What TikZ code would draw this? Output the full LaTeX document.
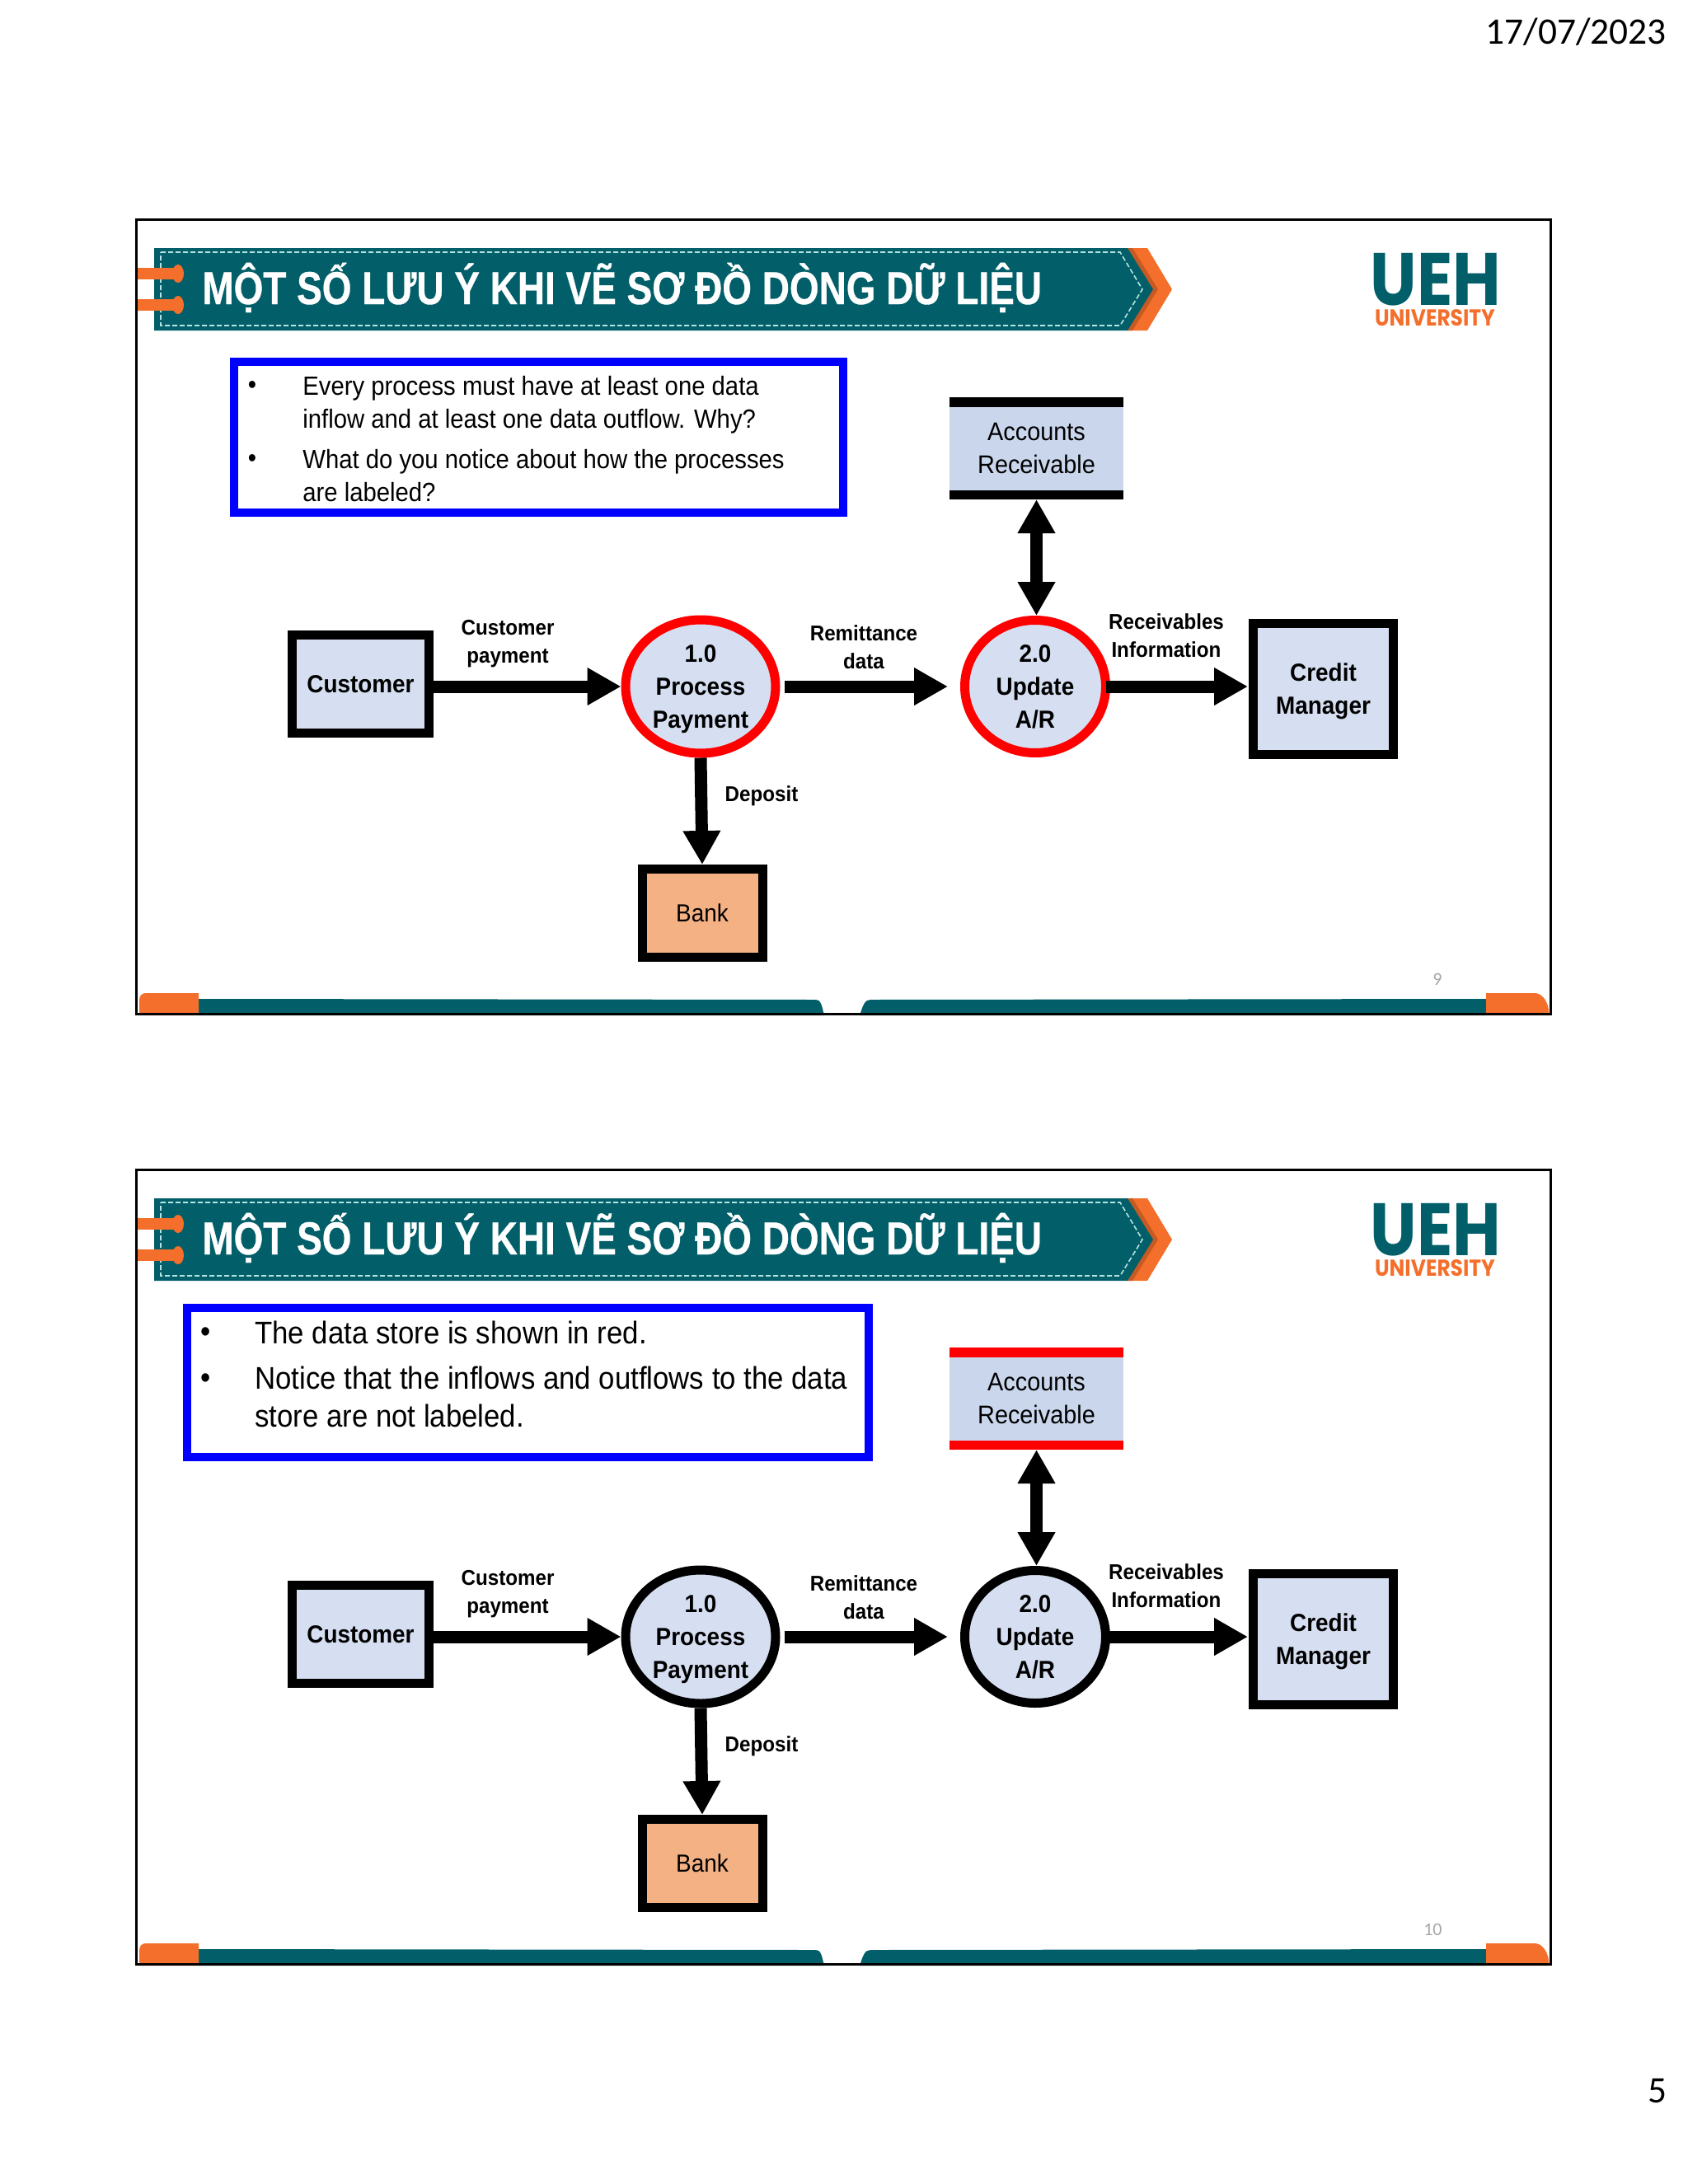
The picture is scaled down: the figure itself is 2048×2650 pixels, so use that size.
\documentclass[tikz,border=0pt]{standalone}
\usepackage{fontspec}
\usetikzlibrary{shapes.geometric,arrows.meta,calc}
\setmainfont{Liberation Sans}
\newfontfamily\titlefont[FakeStretch=.82,FakeBold=.6]{Liberation Sans}
\newfontfamily\bodyfont[FakeStretch=.915]{Liberation Sans}
\newfontfamily\nodefont[FakeStretch=.93]{Liberation Sans}
\newfontfamily\logofont[FakeStretch=.89]{Poppins}
\newfontfamily\pagefont{Carlito}
\definecolor{dfdteal}{HTML}{025F69}
\definecolor{dfdorange}{HTML}{F36F2B}
\definecolor{dfdshade}{HTML}{C65A22}
\definecolor{dfddash}{HTML}{B5E3E3}
\definecolor{dfdblue}{HTML}{D6DFF1}
\definecolor{dfdstore}{HTML}{C9D6EC}
\definecolor{dfdbank}{HTML}{F4B183}
\definecolor{dfdred}{HTML}{FF0000}
\definecolor{dfdbox}{HTML}{0000FF}
\tikzset{
  entity/.style={draw=black, fill=dfdblue, line width=5.5pt, align=center, inner sep=0,
                 font=\nodefont\bfseries\fontsize{15}{20}\selectfont},
  process/.style={ellipse, fill=dfdblue, line width=5.5pt, inner sep=0},
  proctext/.style={align=center, inner sep=0, yshift=-1.5pt, font=\nodefont\bfseries\fontsize{15}{20}\selectfont},
  store/.style={fill=dfdstore, inner sep=0, outer sep=0, align=center, minimum width=105.5pt, minimum height=62pt,
                font=\nodefont\fontsize{15.5}{20}\selectfont},
  flowlabel/.style={align=center, inner sep=0, font=\nodefont\bfseries\fontsize{13}{17}\selectfont},
  flow/.style={line width=7.5pt, -{Triangle[length=20.5pt,width=21.5pt]}},
  bothflow/.style={line width=7.5pt, {Triangle[length=20.5pt,width=21.5pt]}-{Triangle[length=20.5pt,width=21.5pt]}},
  notebox/.style={draw=dfdbox, line width=5pt, inner sep=0},
  bullettext/.style={anchor=north west, align=left, inner sep=0}
}
\begin{document}
\begin{tikzpicture}[x=0.5pt,y=-0.5pt]
\useasboundingbox (0,0) rectangle (2048,2650);
\node[font=\pagefont\fontsize{22.7}{26}\selectfont, anchor=base east, inner sep=0] (date) at (2022,53) {17/07/2023};
\node[font=\pagefont\fontsize{22.7}{26}\selectfont, inner sep=0] (sheet) at (2011,2537) {5};

\foreach \s/\yy/\pg/\ring/\bars in {one/0/9/dfdred/black,two/1153/10/black/dfdred}{
\begin{scope}[shift={(0,\yy)}, name prefix=\s-]
  % banner
  \fill[dfdorange] (1368,301) -- (1392,301) -- (1422,351) -- (1392,401) -- (1368,401) -- cycle;
  \fill[dfdshade] (1368,301) -- (1374,301) -- (1405,351) -- (1374,401) -- (1368,401) -- cycle;
  \fill[dfdteal] (187,301) -- (1368,301) -- (1399,351) -- (1368,401) -- (187,401) -- cycle;
  \draw[dfddash, line width=.8pt, dash pattern=on 3pt off 1.5pt]
    (195,306) -- (1359,306) -- (1386,351) -- (1359,395) -- (195,395) -- cycle;
  \foreach \py in {332,370}{
    \fill[dfdorange] (167,\py-7) rectangle (216,\py+7);
    \fill[dfdorange] (216,\py) ellipse [x radius=7, y radius=11];
  }
  \node[font=\titlefont\bfseries\fontsize{28}{32}\selectfont, text=white, anchor=base west, inner sep=0] (title) at (245,369)
    {MỘT SỐ LƯU Ý KHI VẼ SƠ ĐỒ DÒNG DỮ LIỆU};
  % logo
  \node[font=\logofont\bfseries\fontsize{45}{50}\selectfont, text=dfdteal, anchor=base, inner sep=0] (ueh) at (1742,370) {UEH};
  \node[font=\logofont\bfseries\fontsize{14}{15}\selectfont, text=dfdorange, anchor=base, inner sep=0] (uni) at (1741,395) {UNIVERSITY};
  % footer
  \fill[dfdteal] (241,1212) -- (990,1213) .. controls (996,1213) and (997,1220) .. (1000,1232) -- (241,1232) -- cycle;
  \fill[dfdteal] (1043,1232) .. controls (1047,1220) and (1049,1213) .. (1056,1213) -- (1803,1212) -- (1803,1232) -- cycle;
  \fill[dfdorange] (169,1232) -- (169,1214) .. controls (169,1208) and (172,1205) .. (177,1205) -- (241,1205) -- (241,1232) -- cycle;
  \fill[dfdorange] (1803,1232) -- (1803,1205) -- (1862,1205) .. controls (1870,1205) and (1877,1213) .. (1879,1225) -- (1879,1232) -- cycle;
  \draw[black, line width=1.5pt] (165,266) rectangle (1881,1230);
  \node[font=\pagefont\fontsize{11}{13}\selectfont, text=black!35, anchor=east, inner sep=0] (num) at (1750,1188) {\pg};

  % diagram
  \node[entity, minimum width=83pt, minimum height=59.5pt] (customer) at (437.5,830) {Customer};
  \node[process, draw=\ring, minimum width=91pt, minimum height=81pt,
        label={[proctext]center:1.0\\Process\\Payment}] (p1) at (850,833) {};
  \node[process, draw=\ring, minimum width=85.5pt, minimum height=80.5pt,
        label={[proctext, yshift=1.5pt]center:2.0\\Update\\A/R}] (p2) at (1256,833) {};
  \node[entity, minimum width=85pt, minimum height=79.5pt,
        label={[proctext]center:Credit\\Manager}] (credit) at (1605.5,835.5) {};
  \node[entity, fill=dfdbank, font=\nodefont\fontsize{15}{20}\selectfont, minimum width=73pt, minimum height=53.5pt] (bank) at (852,1108) {Bank};
  \node[store] (ar) at (1257.5,544) {Accounts\\Receivable};
  \fill[\bars] (ar.north west) rectangle ($(ar.north east)+(0,12)$);
  \fill[\bars] (ar.south west) rectangle ($(ar.south east)+(0,-11)$);

  \draw[flow] (customer.east |- p1) -- (p1);
  \draw[flow, shorten <=2.5pt, shorten >=7.5pt] (p1) -- (p2);
  \draw[flow, shorten <=-2.5pt, shorten >=.5pt] (p2) -- (p2 -| credit.west);
  \draw[flow] (p1.south) -- (bank.north);
  \draw[bothflow] (ar.south) -- (ar.south |- p2.north);

  \node[flowlabel] (lab1) at (616,781) {Customer\\payment};
  \node[flowlabel] (lab2) at (1048,785) {Remittance\\data};
  \node[flowlabel] (lab3) at (1415,771) {Receivables\\Information};
  \node[flowlabel] (lab4) at (924,966) {Deposit};
\end{scope}
}

% notes
\node[notebox, minimum width=369.5pt, minimum height=91.5pt] (note1) at (653.5,530.5) {};
\begin{scope}[font=\bodyfont\fontsize{16}{20}\selectfont]
  \node[inner sep=0] (b1) at (306,470) {•};
  \node[inner sep=0] (b2) at (306,559) {•};
  \node[bullettext] (t1) at (367,456) {Every process must have at least one data\\inflow and at least one data outflow. Why?};
  \node[bullettext] (t2) at (367,545) {What do you notice about how the processes\\are labeled?};
\end{scope}
\node[notebox, minimum width=413.5pt, minimum height=90.5pt] (note2) at (640.5,1677.5) {};
\begin{scope}[font=\bodyfont\fontsize{19}{23}\selectfont]
  \node[inner sep=0] (b3) at (250,1620) {•};
  \node[inner sep=0] (b4) at (250,1676) {•};
  \node[bullettext] (t3) at (309,1603) {The data store is shown in red.};
  \node[bullettext] (t4) at (309,1658) {Notice that the inflows and outflows to the data\\store are not labeled.};
\end{scope}
\end{tikzpicture}
\end{document}
